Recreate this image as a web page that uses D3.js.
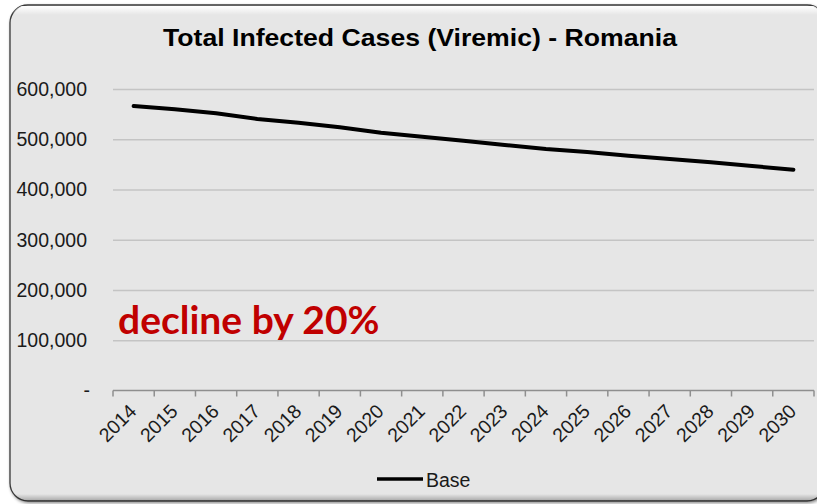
<!DOCTYPE html>
<html>
<head>
<meta charset="utf-8">
<script src="https://cdn.jsdelivr.net/npm/d3@7"></script>
<style>
  html, body { margin: 0; padding: 0; background: #ffffff; }
  svg { display: block; }
</style>
</head>
<body>
<script>
// Projected total viremic infections, Romania (base scenario)
const years = ["2014","2015","2016","2017","2018","2019","2020","2021","2022",
               "2023","2024","2025","2026","2027","2028","2029","2030"];
const baseCases = [566000, 559600, 551600, 540300, 532900, 523700, 513000, 505000,
                   497000, 488500, 480500, 474500, 467200, 460600, 454000, 446700, 439300];
const yTicks = [0, 100000, 200000, 300000, 400000, 500000, 600000];
const seriesName = "Base";
const titleText = "Total Infected Cases (Viremic) - Romania";
const noteText = "decline by 20%";

const W = 817, H = 504;
const svg = d3.select("body").append("svg").attr("width", W).attr("height", H);
const defs = svg.append("defs");

// Panel: rounded card with soft shadow and a light bevel at the top
const shadow = defs.append("filter").attr("id", "cardShadow")
  .attr("x", "-5%").attr("y", "-5%").attr("width", "110%").attr("height", "110%");
shadow.append("feDropShadow").attr("dx", 1).attr("dy", 1.5).attr("stdDeviation", 1.5)
  .attr("flood-color", "#000").attr("flood-opacity", 0.45);

const card = { x: 10, y: 5, w: 815, h: 496, r: 18 };
defs.append("clipPath").attr("id", "cardClip").append("rect")
  .attr("x", card.x).attr("y", card.y).attr("width", card.w).attr("height", card.h)
  .attr("rx", card.r);

const topGlow = defs.append("linearGradient").attr("id", "topGlow")
  .attr("x1", 0).attr("y1", 0).attr("x2", 0).attr("y2", 1);
topGlow.append("stop").attr("offset", "0%").attr("stop-color", "#ffffff").attr("stop-opacity", 1);
topGlow.append("stop").attr("offset", "100%").attr("stop-color", "#ffffff").attr("stop-opacity", 0);

const bottomShade = defs.append("linearGradient").attr("id", "bottomShade")
  .attr("x1", 0).attr("y1", 0).attr("x2", 0).attr("y2", 1);
bottomShade.append("stop").attr("offset", "0%").attr("stop-color", "#000").attr("stop-opacity", 0);
bottomShade.append("stop").attr("offset", "100%").attr("stop-color", "#000").attr("stop-opacity", 0.28);

svg.append("rect")
  .attr("x", card.x).attr("y", card.y).attr("width", card.w).attr("height", card.h)
  .attr("rx", card.r).attr("fill", "#e6e6e6")
  .attr("stroke", "#3a3a3a").attr("stroke-width", 1.3)
  .attr("filter", "url(#cardShadow)");

const bevel = svg.append("g").attr("clip-path", "url(#cardClip)");
bevel.append("rect").attr("x", card.x).attr("y", card.y + 1)
  .attr("width", card.w).attr("height", 9).attr("fill", "url(#topGlow)");
bevel.append("rect").attr("x", card.x).attr("y", card.y + card.h - 7)
  .attr("width", card.w).attr("height", 7).attr("fill", "url(#bottomShade)");

// Plot area
const plot = { left: 113, right: 814, top: 89, bottom: 390.5 };

const x = d3.scaleBand().domain(years).range([plot.left, plot.right]).padding(0);
const y = d3.scaleLinear().domain([0, 600000]).range([plot.bottom, plot.top]);

const fontFamily = "'Liberation Sans', Arial, sans-serif";
const labelSize = 19.5;

// Horizontal gridlines with value labels
const yAxis = d3.axisLeft(y)
  .tickValues(yTicks)
  .tickSizeInner(-(plot.right - plot.left))
  .tickSizeOuter(0)
  .tickPadding(26)
  .tickFormat(d => d === 0 ? "-" : d3.format(",")(d));

const yg = svg.append("g").attr("transform", `translate(${plot.left},0)`).call(yAxis);
yg.select(".domain").remove();
yg.selectAll(".tick line")
  .attr("stroke", "#c4c4c4").attr("stroke-width", 1.4)
  .attr("opacity", d => d === 0 ? 0 : 1);
yg.selectAll(".tick text")
  .attr("font-family", fontFamily).attr("font-size", labelSize).attr("fill", "#1a1a1a")
  .attr("dx", d => d === 0 ? 3 : 0);

// Category axis: ticks sit on the band boundaries
const xg = svg.append("g").attr("transform", `translate(0,${plot.bottom})`);
xg.append("line")
  .attr("x1", plot.left).attr("x2", plot.right)
  .attr("stroke", "#8f8f8f").attr("stroke-width", 1.5);
const boundaries = years.map(d => x(d)).concat([plot.right]);
xg.selectAll("line.tick").data(boundaries).join("line")
  .attr("class", "tick")
  .attr("x1", d => d).attr("x2", d => d).attr("y1", 0).attr("y2", 6)
  .attr("stroke", "#8f8f8f").attr("stroke-width", 1.5);
xg.selectAll("text.year").data(years).join("text")
  .attr("class", "year")
  .attr("transform", d => `translate(${x(d) + x.bandwidth() / 2 + 4},${22}) rotate(-45)`)
  .attr("text-anchor", "end")
  .attr("font-family", fontFamily).attr("font-size", labelSize).attr("fill", "#1a1a1a")
  .text(d => d);

// Series line
const line = d3.line()
  .x((d, i) => x(years[i]) + x.bandwidth() / 2)
  .y(d => y(d));
svg.append("path").datum(baseCases)
  .attr("d", line)
  .attr("fill", "none").attr("stroke", "#000").attr("stroke-width", 4)
  .attr("stroke-linejoin", "round").attr("stroke-linecap", "round");

// Title
svg.append("text")
  .attr("x", 163).attr("y", 45.5)
  .attr("textLength", 514).attr("lengthAdjust", "spacingAndGlyphs")
  .attr("font-family", fontFamily).attr("font-weight", "bold").attr("font-size", 24)
  .attr("fill", "#000").text(titleText);

// Annotation
svg.append("text")
  .attr("x", 118).attr("y", 333.5)
  .attr("font-family", "Lato, 'Open Sans', sans-serif").attr("font-weight", "bold")
  .attr("font-size", 39).attr("fill", "#c00000").text(noteText);

// Legend
const lg = svg.append("g");
lg.append("line").attr("x1", 377).attr("x2", 423).attr("y1", 479).attr("y2", 479)
  .attr("stroke", "#000").attr("stroke-width", 3.5);
lg.append("text").attr("x", 426).attr("y", 486.5)
  .attr("font-family", fontFamily).attr("font-size", labelSize).attr("fill", "#1a1a1a")
  .text(seriesName);
</script>
</body>
</html>
